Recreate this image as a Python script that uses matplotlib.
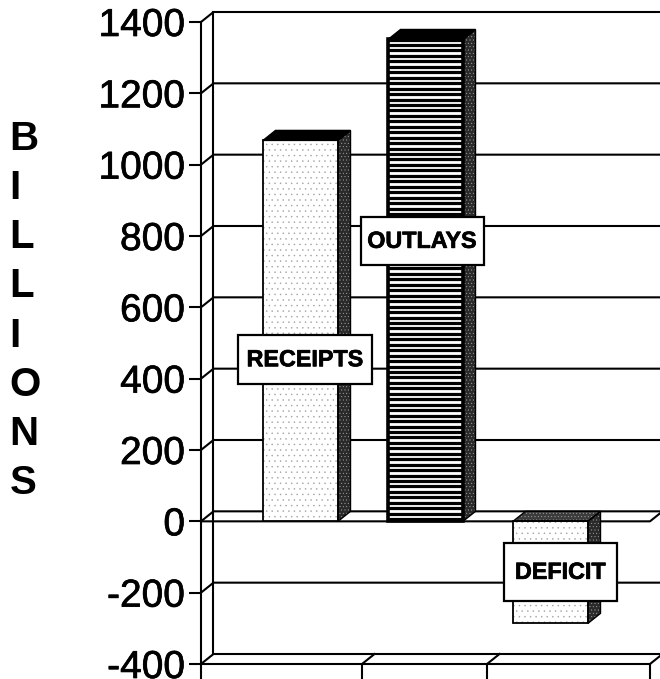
import numpy as np
import matplotlib
matplotlib.use("Agg")
import matplotlib.pyplot as plt
import matplotlib.patheffects as pe
from matplotlib.patches import Polygon, Rectangle

categories = ["RECEIPTS", "OUTLAYS", "DEFICIT"]
values = [1068, 1351, -286]
y_ticks = [-400, -200, 0, 200, 400, 600, 800, 1000, 1200, 1400]
x_dividers = [0.492, 1.492]
label_y = [453, 785, -143]
label_x = [0.036, 0.972, 2.08]
label_w = [134, 123, 113]
label_h = [49, 48, 58]

plt.rcParams["font.family"] = ["Liberation Sans", "DejaVu Sans"]
plt.rcParams["axes.unicode_minus"] = False
plt.rcParams["hatch.linewidth"] = 0.3

W, H = 660, 679
fig = plt.figure(figsize=(W / 100, H / 100), dpi=100)
L, R, T, B = 201, 650, 22, 664
ax = fig.add_axes([L / W, 1 - B / H, (R - L) / W, (B - T) / H])
xmin, xmax = -0.796, 2.796
ymin, ymax = -400, 1400
ax.set_xlim(xmin, xmax)
ax.set_ylim(ymin, ymax)
px_x = (xmax - xmin) / (R - L)
px_y = (ymax - ymin) / (B - T)
DX, DY = 12.5 * px_x, 10 * px_y
BAR_W = 75 * px_x
LW = 1.5

for s in ("top", "right"):
    ax.spines[s].set_visible(False)
for s in ("left", "bottom"):
    ax.spines[s].set_linewidth(LW)
ax.set_yticks(y_ticks)
ax.set_xticks([xmin] + x_dividers + [xmax])
ax.set_xticklabels([])
ax.tick_params(axis="y", length=9, width=LW, pad=2.5, labelsize=28)
ax.tick_params(axis="x", length=10.5, width=LW)
for lab in ax.get_yticklabels():
    lab.set_path_effects([pe.withStroke(linewidth=0.5, foreground="black")])
    lab.set_y(lab.get_position()[1])
ax.patch.set_alpha(0)


def line(xs, ys, z=1):
    ax.plot(xs, ys, color="black", lw=LW, zorder=z, clip_on=False, solid_capstyle="projecting")


# walls and grid
line([xmin + DX, xmin + DX], [ymin + DY, ymax + DY])
for t in y_ticks:
    line([xmin, xmin + DX, xmax + DX], [t, t + DY, t + DY])
for x in x_dividers + [xmax]:
    line([x, x + DX], [ymin, ymin + DY])
line([xmin, xmax, xmax + DX], [0, 0, DY], z=2)

# bars
for i, (name, v) in enumerate(zip(categories, values)):
    x0, x1 = i - BAR_W / 2, i + BAR_W / 2
    lo, hi = min(0, v), max(0, v)
    front = Rectangle((x0, lo), BAR_W, hi - lo, facecolor="white", edgecolor="none", zorder=3)
    ax.add_patch(front)
    top_pts = [(x0, hi), (x1, hi), (x1 + DX, hi + DY), (x0 + DX, hi + DY)]
    side_pts = [(x1, lo), (x1 + DX, lo + DY), (x1 + DX, hi + DY), (x1, hi)]
    ax.add_patch(Polygon(side_pts, closed=True, facecolor="#2a2a2a", edgecolor="#a8a8a8", hatch=".....", lw=0, zorder=3))
    top_colour = "#3c3c3c" if name == "DEFICIT" else "black"
    top_hatch = "....." if name == "DEFICIT" else None
    ax.add_patch(Polygon(top_pts, closed=True, facecolor=top_colour, edgecolor="#a8a8a8", hatch=top_hatch, lw=0, zorder=3))
    edge_lw = 2.6 if name == "OUTLAYS" else 1.3
    if name == "OUTLAYS":
        ax.hlines(np.arange(lo + 6, hi, 5.45 * px_y), x0, x1, color="black", lw=2.3, zorder=3.1)
    else:
        ax.add_patch(Rectangle((x0, lo), BAR_W, hi - lo, facecolor="none", edgecolor="#a0a0a0", hatch="...", lw=0, zorder=3.1))
    ax.add_patch(Rectangle((x0, lo), BAR_W, hi - lo, facecolor="none", edgecolor="black", lw=edge_lw, zorder=3.2, clip_on=False))
    ax.add_patch(Polygon(top_pts, closed=True, facecolor="none", edgecolor="black", lw=1.0, zorder=3.2))
    ax.add_patch(Polygon(side_pts, closed=True, facecolor="none", edgecolor="black", lw=1.0, zorder=3.2))

# bar labels
for name, xc, yc, w, h in zip(categories, label_x, label_y, label_w, label_h):
    ax.add_patch(Rectangle((xc - w * px_x / 2, yc - h * px_y / 2), w * px_x, h * px_y,
                           facecolor="white", edgecolor="black", lw=1.6, zorder=5, clip_on=False))
    ax.text(xc, yc, name, ha="center", va="center", fontsize=16.8, fontweight="bold", zorder=6,
            path_effects=[pe.withStroke(linewidth=0.5, foreground="black")])

fig.text(9.5 / W, 1 - 311 / H, "B\nI\nL\nL\nI\nO\nN\nS", ha="left", va="center",
         fontsize=29, fontweight="bold", linespacing=1.375)

fig.savefig("out.png", dpi=100)
